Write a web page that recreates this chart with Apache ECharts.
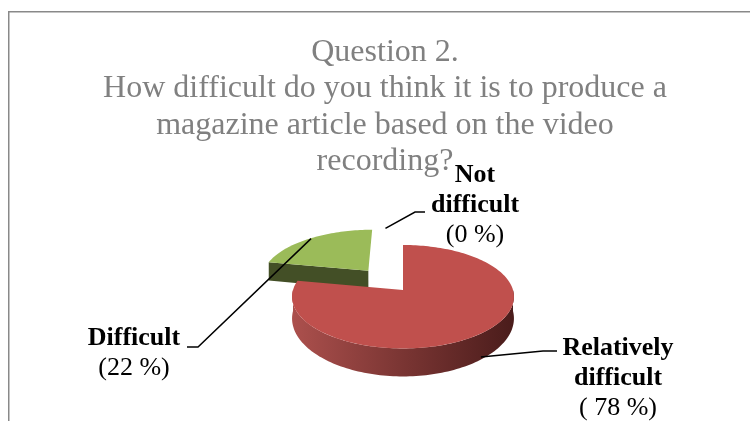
<!DOCTYPE html>
<html>
<head>
<meta charset="utf-8">
<script src="https://cdn.jsdelivr.net/npm/echarts@6/dist/echarts.min.js"></script>
<style>
html,body{margin:0;padding:0;background:#ffffff;}
#chart{width:750px;height:421px;}
</style>
</head>
<body>
<div id="chart"></div>
<script>
// ---- data ----
const titleLines = ['Question 2.', 'How difficult do you think it is to produce a', 'magazine article based on the video', 'recording?'];
const categories = ['Not difficult', 'Relatively difficult', 'Difficult'];
const labelNames = ['Not\ndifficult', 'Relatively\ndifficult', 'Difficult'];
const values = [0, 78, 22];
const percentLabels = ['(0 %)', '( 78 %)', '(22 %)'];

// ---- layout / style ----
const FONT = '"Liberation Serif", "Times New Roman", serif';
const PIE = { cx: 403, cy: 290, rx: 110, ry: 50.85, depth: 21, persp: 0.13, perspDepth: 0.25 };
const EXPLODE = [0, 0, 0.52];
const COLORS = [
  { top: '#4F81BD', side: '#2C4D75' },
  { top: '#C0504D', side: ['#AC504D', '#7A3533', '#4A1C1B'], face: '#7A3533' },
  { top: '#9BBB59', side: '#434F26', face: '#434F26' }
];
const LABELS = [
  { x: 475, y: 160, line: [[425, 212], [415, 212]], anchor: { da: 7.5, r: 1.45, h: 0 } },
  { x: 618, y: 333, line: [[557, 351], [543, 351]], anchor: { da: 0, r: 1.0, h: 0.9 } },
  { x: 134, y: 323, line: [[187, 347], [198, 347]], anchor: { da: 0, r: 0.99, h: 0 } }
];

const total = values.reduce((a, b) => a + b, 0);
const starts = [];
(function () { let acc = 0; values.forEach(v => { starts.push(acc); acc += v; }); })();

function proj(u, v, h) {
  const f = 1 / (1 + PIE.persp * v);
  const g = 1 / (1 + PIE.perspDepth * v);
  return [PIE.cx + u * PIE.rx * f, PIE.cy - v * PIE.ry * f + h * PIE.depth * g];
}
const RAD = Math.PI / 180;

function rimPoints(ou, ov, from, to, h) {
  const n = Math.max(2, Math.ceil(Math.abs(to - from) / 1.5));
  const pts = [];
  for (let k = 0; k <= n; k++) {
    const a = (from + (to - from) * k / n) * RAD;
    pts.push(proj(ou + Math.cos(a), ov + Math.sin(a), h));
  }
  return pts;
}

function sideFill(c) {
  if (Array.isArray(c.side)) {
    return new echarts.graphic.LinearGradient(0, 0, 1, 0, [
      { offset: 0, color: c.side[0] }, { offset: 0.5, color: c.side[1] }, { offset: 1, color: c.side[2] }
    ]);
  }
  return c.side;
}

function renderItem(params, api) {
  const i = params.dataIndex;
  const val = api.value(0);
  const a0 = 90 - 360 * starts[i] / total;
  const a1 = a0 - 360 * val / total;
  const midDeg = (a0 + a1) / 2;
  const mid = midDeg * RAD;
  const e = EXPLODE[i];
  const ou = e * Math.cos(mid), ov = e * Math.sin(mid);
  const baseZ = Math.round(100 - (ov + Math.sin(mid) * 0.5) * 50);
  const c = COLORS[i];
  const children = [];

  if (val > 0) {
    // outer walls facing the viewer
    for (let k = -2; k <= 1; k++) {
      const lo = Math.max(a1, -180 + 360 * k);
      const hi = Math.min(a0, 0 + 360 * k);
      if (hi - lo > 0.01) {
        const topR = rimPoints(ou, ov, lo, hi, 0);
        const botR = rimPoints(ou, ov, hi, lo, 1);
        children.push({ type: 'polygon', z2: baseZ, shape: { points: topR.concat(botR) },
          style: { fill: sideFill(c) } });
      }
    }
    // radial faces
    const faces = [];
    if (Math.cos(a0 * RAD) < -1e-6) faces.push(a0);
    if (Math.cos(a1 * RAD) > 1e-6) faces.push(a1);
    faces.forEach(a => {
      const r = a * RAD;
      const p1 = proj(ou, ov, 0), p2 = proj(ou + Math.cos(r), ov + Math.sin(r), 0);
      const p3 = proj(ou + Math.cos(r), ov + Math.sin(r), 1), p4 = proj(ou, ov, 1);
      children.push({ type: 'polygon', z2: baseZ + 1, shape: { points: [p1, p2, p3, p4] },
        style: { fill: c.face || c.side } });
    });
    // top face
    const topPts = [proj(ou, ov, 0)].concat(rimPoints(ou, ov, a0, a1, 0));
    children.push({ type: 'polygon', z2: baseZ + 2, shape: { points: topPts },
      style: { fill: c.top } });
  }

  // leader line
  const L = LABELS[i];
  const aa = (midDeg + L.anchor.da) * RAD;
  const end = proj(ou + L.anchor.r * Math.cos(aa), ov + L.anchor.r * Math.sin(aa), L.anchor.h);
  children.push({ type: 'polyline', z2: 900, shape: { points: L.line.concat([end]) },
    style: { stroke: '#000000', lineWidth: 1.5, fill: null } });

  // label
  const nameTxt = labelNames[i].split('\n').map(s => '{b|' + s + '}').join('\n');
  children.push({ type: 'text', z2: 1000, x: L.x, y: L.y,
    style: {
      text: nameTxt + '\n{n|' + percentLabels[i] + '}',
      align: 'center', verticalAlign: 'top', fill: '#000000',
      fontFamily: FONT, fontSize: 26, lineHeight: 30,
      rich: {
        b: { fontFamily: FONT, fontSize: 26, fontWeight: 'bold', lineHeight: 30, fill: '#000000', align: 'center' },
        n: { fontFamily: FONT, fontSize: 26, fontWeight: 'normal', lineHeight: 30, fill: '#000000', align: 'center' }
      }
    } });

  return { type: 'group', children: children };
}

const chart = echarts.init(document.getElementById('chart'), null, { renderer: 'canvas' });
chart.setOption({
  backgroundColor: '#ffffff',
  animation: false,
  graphic: [
    { type: 'rect', z: 0, shape: { x: 8.75, y: 11.75, width: 800, height: 500 },
      style: { fill: 'none', stroke: '#898989', lineWidth: 1.5 } },
    { type: 'text', z: 10, x: 385, y: 34,
      style: { text: titleLines.join('\n'), fontFamily: FONT, fontSize: 32, lineHeight: 36.5,
        fill: '#808080', align: 'center', verticalAlign: 'top' } }
  ],
  series: [{
    type: 'custom',
    coordinateSystem: 'none',
    renderItem: renderItem,
    data: values.map((v, i) => ({ name: categories[i], value: [v] }))
  }]
});
</script>
</body>
</html>
